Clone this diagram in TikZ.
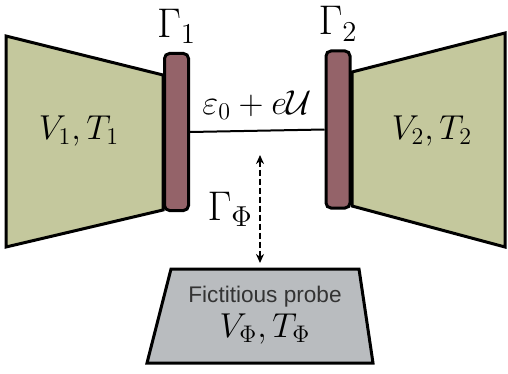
\documentclass[tikz,border=0pt]{standalone}
\usepackage{amsmath}
\usepackage{amssymb}
\usepackage{fontspec}
\newfontfamily\probefont{Liberation Sans}
\usepackage{xcolor}
\usetikzlibrary{arrows.meta, positioning}
\definecolor{resfill}{RGB}{196,200,157}
\definecolor{contfill}{RGB}{148,99,105}
\definecolor{probefill}{RGB}{185,188,191}
\definecolor{probetext}{RGB}{51,51,51}

\begin{document}
\begin{tikzpicture}[x=0.5pt, y=-0.5pt,
  lbl/.style={inner sep=0pt, font=\fontsize{18.5}{22}\selectfont},
  glbl/.style={inner sep=0pt, font=\fontsize{22}{26}\selectfont},
  contact/.style={draw, line width=1.5pt, fill=contfill, rounded corners=2.5pt,
    inner sep=0pt, minimum width=12pt, minimum height=78.5pt},
  res/.style={draw, line width=1.5pt, fill=resfill, line join=miter}]
  \useasboundingbox (0,0) rectangle (508,374);
  % reservatorios
  \draw[res] (6,36) -- (163,75) -- (163,210) -- (6,247) -- cycle;
  \draw[res] (352,72) -- (505,33) -- (505,247) -- (352,206) -- cycle;
  \node[lbl] (res1) at (79,131) {$V_1,T_1$};
  \node[lbl] (res2) at (432,131) {$V_2,T_2$};
  % contatos
  \node[contact] (c1) at (176.5,132) {};
  \node[contact] (c2) at (338,129.5) {};
  \node[glbl, above=4pt of c1] (g1) {$\Gamma_1$};
  \node[glbl, above=4pt of c2] (g2) {$\Gamma_2$};
  % nivel
  \draw[line width=1pt] (c1.east) -- (c2.west)
    node[lbl, midway, above=5pt] (lev) {$\varepsilon_0+e\mathcal{U}$};
  % sonda
  \draw[line width=1.5pt, fill=probefill, line join=miter]
    (171,269) -- (359,269) -- (373,363) -- (147,363) -- cycle;
  \node[inner sep=0pt, font=\probefont\fontsize{11.3}{13}\selectfont, text=probetext]
    (ptxt) at (265,297) {Fictitious probe};
  \node[lbl] (pvt) at (265,329) {$V_\Phi,T_\Phi$};
  % acoplamento
  \coordinate (atop) at (260,155);
  \coordinate (abot) at (260,263);
  \draw[{Stealth[length=4.5pt,width=4pt]}-{Stealth[length=4.5pt,width=4pt]},
    line width=1.2pt, dash pattern=on 3pt off 1.5pt] (atop) -- (abot)
    node[glbl, midway, left=3pt] (gphi) {$\Gamma_\Phi$};
\end{tikzpicture}
\end{document}
